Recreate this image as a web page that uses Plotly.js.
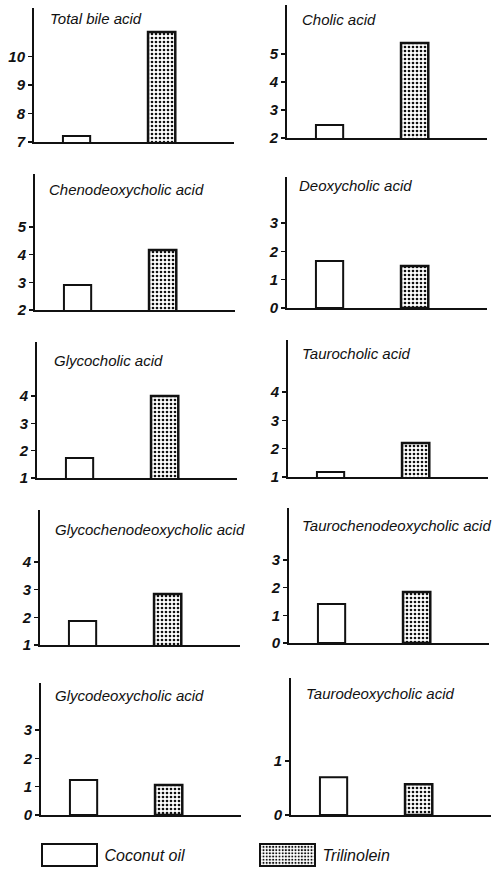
<!DOCTYPE html>
<html><head><meta charset="utf-8">
<script src="https://cdn.plot.ly/plotly-3.0.1.min.js"></script>
<style>html,body{margin:0;padding:0;background:#fff}</style>
</head><body><div id="chart" style="width:504px;height:872px"></div>
<script>
// ---- data ----
const panelTitles = ["Total bile acid", "Cholic acid", "Chenodeoxycholic acid", "Deoxycholic acid",
  "Glycocholic acid", "Taurocholic acid", "Glycochenodeoxycholic acid", "Taurochenodeoxycholic acid",
  "Glycodeoxycholic acid", "Taurodeoxycholic acid"];
const seriesNames = ["Coconut oil", "Trilinolein"];
const coconutOil  = [7.21, 2.46, 2.90, 1.66, 1.73, 1.18, 1.87, 1.41, 1.24, 0.70];
const trilinolein = [10.86, 5.39, 4.17, 1.48, 4.00, 2.20, 2.84, 1.84, 1.06, 0.57];
const tickValues = [[7,8,9,10],[2,3,4,5],[2,3,4,5],[0,1,2,3],[1,2,3,4],[1,2,3,4],[1,2,3,4],[0,1,2,3],[0,1,2,3],[0,1]];
const axisFloor = [7,2,2,0,1,1,1,0,0,0];

// ---- layout geometry (pixels) ----
const W = 504, H = 872;
const frames = [ // axisX, baselineY, topY, px per unit
  [34,142,8,28.5],[287,138,5,28],
  [35,310,174,27.7],[287,308,177,28.3],
  [37,478,342,27.3],[288,477,340,28.3],
  [40,645,510,27.7],[289,643,508,27.7],
  [41,815,683,28.3],[291,815,678,54]
];
const titlePos = [[48,18],[300,20],[47,189],[297,185],[52,360],[300,353],[53,529],[300,525],[53,695],[304,693]];
const ink = '#111';
const fam = 'Liberation Sans, Arial, sans-serif';

const data = [];
const layout = {
  width: W, height: H, margin: {l:0,r:0,t:0,b:0},
  paper_bgcolor: '#fff', plot_bgcolor: 'rgba(0,0,0,0)',
  barmode: 'overlay', annotations: [], showlegend: true,
  font: {family: fam, color: ink}
};

panelTitles.forEach((t, i) => {
  const n = i === 0 ? '' : String(i + 1);
  const [ax, base, top, ppu] = frames[i];
  data.push({
    type: 'bar', x: [seriesNames[0]], y: [coconutOil[i]], xaxis: 'x' + n, yaxis: 'y' + n,
    width: 0.32, name: seriesNames[0], showlegend: i === 0, legend: 'legend',
    marker: {color: '#fff', line: {color: ink, width: 2}}, hoverinfo: 'skip'
  });
  data.push({
    type: 'bar', x: [seriesNames[1]], y: [trilinolein[i]], xaxis: 'x' + n, yaxis: 'y' + n,
    width: 0.32, name: seriesNames[1], showlegend: i === 0, legend: 'legend2',
    marker: {color: '#fff', pattern: {shape: '.', fgcolor: ink, bgcolor: '#fff', size: 4, solidity: 0.35},
             line: {color: ink, width: 2.5}}, hoverinfo: 'skip'
  });
  layout['xaxis' + n] = {
    domain: [ax / W, (ax + 200) / W], anchor: 'y' + n, type: 'category',
    categoryorder: 'array', categoryarray: seriesNames, range: [-0.5, 1.85],
    showline: true, linecolor: ink, linewidth: 2, ticks: '', showticklabels: false,
    showgrid: false, zeroline: false, fixedrange: true
  };
  layout['yaxis' + n] = {
    domain: [1 - base / H, 1 - top / H], anchor: 'x' + n,
    range: [axisFloor[i], axisFloor[i] + (base - top) / ppu],
    tickmode: 'array', tickvals: tickValues[i], ticktext: tickValues[i].map(String),
    ticks: 'outside', ticklen: 4, tickwidth: 1.5, tickcolor: ink,
    showline: true, linecolor: ink, linewidth: 2, showgrid: false, zeroline: false,
    tickfont: {family: fam, size: 15, style: 'italic', weight: 'bold', color: ink}, fixedrange: true
  };
  layout.annotations.push({
    text: t, xref: 'paper', yref: 'paper', x: titlePos[i][0] / W, y: 1 - titlePos[i][1] / H,
    xanchor: 'left', yanchor: 'middle', showarrow: false,
    font: {family: fam, size: 15, style: 'italic', color: ink}
  });
});

const legBase = {orientation: 'h', xanchor: 'left', yanchor: 'middle', y: 1 - 855 / H,
  itemwidth: 60, bgcolor: 'rgba(0,0,0,0)', borderwidth: 0, itemclick: false, itemdoubleclick: false,
  font: {family: fam, size: 16, style: 'italic', color: ink}};
layout.legend = Object.assign({}, legBase, {x: 34.5 / W});
layout.legend2 = Object.assign({}, legBase, {x: 252.5 / W});

Plotly.newPlot('chart', data, layout, {staticPlot: true, displayModeBar: false}).then(gd => {
  gd.querySelectorAll('.legendpoints path').forEach(p => {
    p.setAttribute('d', 'M27.5,11H-27.5V-11H27.5Z');
    p.style.strokeWidth = '2px';
  });
});
</script></body></html>
